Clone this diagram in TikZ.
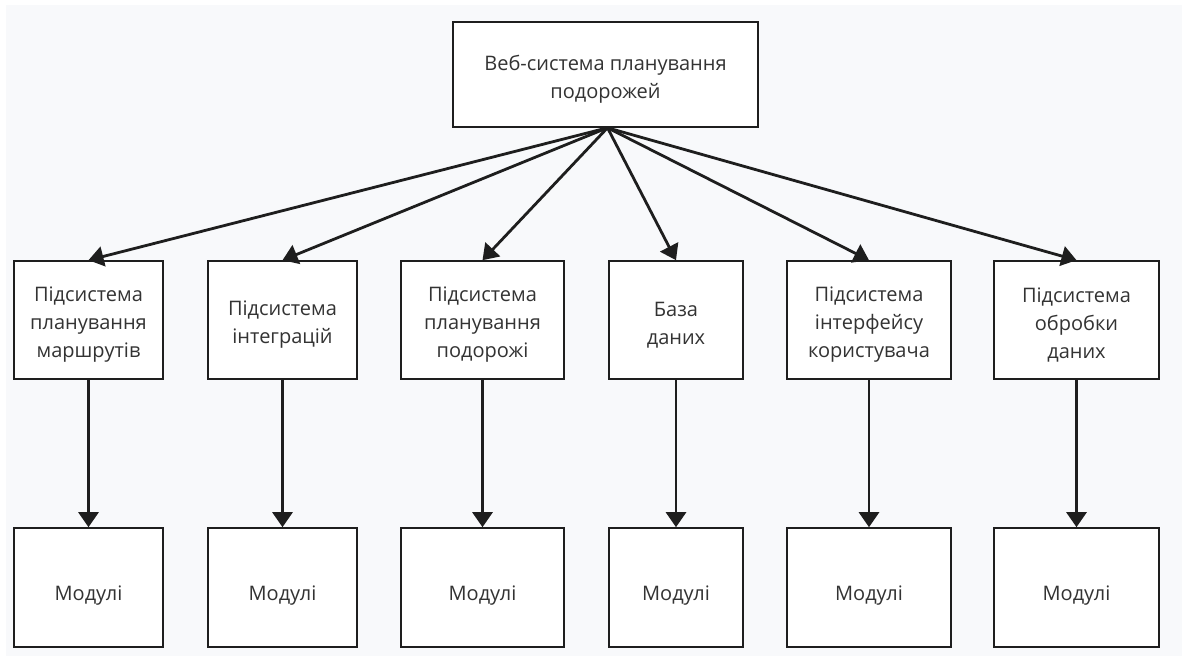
\documentclass[tikz,border=0pt]{standalone}
\usepackage{fontspec}
\setmainfont{Open Sans}
\usetikzlibrary{arrows.meta}
\definecolor{canvas}{HTML}{F8F9FB}
\definecolor{ink}{HTML}{1E1E1E}
\definecolor{labelgray}{HTML}{333333}
% a tall invisible strut on the first line sets the text a little below centre
\newcommand\firstline[1][24pt]{\rule{0pt}{#1}}
\tikzset{
  box/.style={draw=ink, line width=1.6pt, fill=white, align=center,
    text=labelgray, font=\fontsize{20}{28}\selectfont, inner sep=0pt},
  link/.style={draw=ink, line width=2.8pt,
    -{Triangle[width=20pt,length=15pt]}}
}
\begin{document}
\begin{tikzpicture}[x=1pt,y=-1pt]
  % page and canvas
  \useasboundingbox (0,0) rectangle (1182,664);
  \fill[white] (0,0) rectangle (1182,664);
  \fill[canvas] (6,5) rectangle (1182,656);

  % root
  \node[box, minimum width=305pt, minimum height=105pt] (root) at (605.5,74.5)
    {\firstline Веб-система планування\\подорожей};

  % subsystems
  \node[box, minimum width=149pt, minimum height=118pt] (s1) at (88.5,320)
    {\firstline Підсистема\\планування\\маршрутів};
  \node[box, minimum width=149pt, minimum height=118pt] (s2) at (282.5,320)
    {\firstline Підсистема\\інтеграцій};
  \node[box, minimum width=163pt, minimum height=118pt] (s3) at (482.5,320)
    {\firstline Підсистема\\планування\\подорожі};
  \node[box, minimum width=134pt, minimum height=118pt] (s4) at (676,320)
    {\firstline База\\даних};
  \node[box, minimum width=164pt, minimum height=118pt] (s5) at (869,320)
    {\firstline Підсистема\\інтерфейсу\\користувача};
  \node[box, minimum width=165pt, minimum height=118pt] (s6) at (1076.5,320)
    {\firstline Підсистема\\обробки\\даних};

  % modules
  \node[box, minimum width=149pt, minimum height=119pt] (m1) at (88.5,587.5) {\firstline[30pt]Модулі};
  \node[box, minimum width=149pt, minimum height=119pt] (m2) at (282.5,587.5) {\firstline[30pt]Модулі};
  \node[box, minimum width=163pt, minimum height=119pt] (m3) at (482.5,587.5) {\firstline[30pt]Модулі};
  \node[box, minimum width=134pt, minimum height=119pt] (m4) at (676,587.5) {\firstline[30pt]Модулі};
  \node[box, minimum width=164pt, minimum height=119pt] (m5) at (869,587.5) {\firstline[30pt]Модулі};
  \node[box, minimum width=165pt, minimum height=119pt] (m6) at (1076.5,587.5) {\firstline[30pt]Модулі};

  % connectors
  \coordinate (hub) at ([xshift=2pt]root.south);
  \foreach \i in {1,...,6} {
    \draw[link] (hub) -- (s\i.north);
    \draw[link] (s\i.south) -- (m\i.north);
  }
\end{tikzpicture}
\end{document}
